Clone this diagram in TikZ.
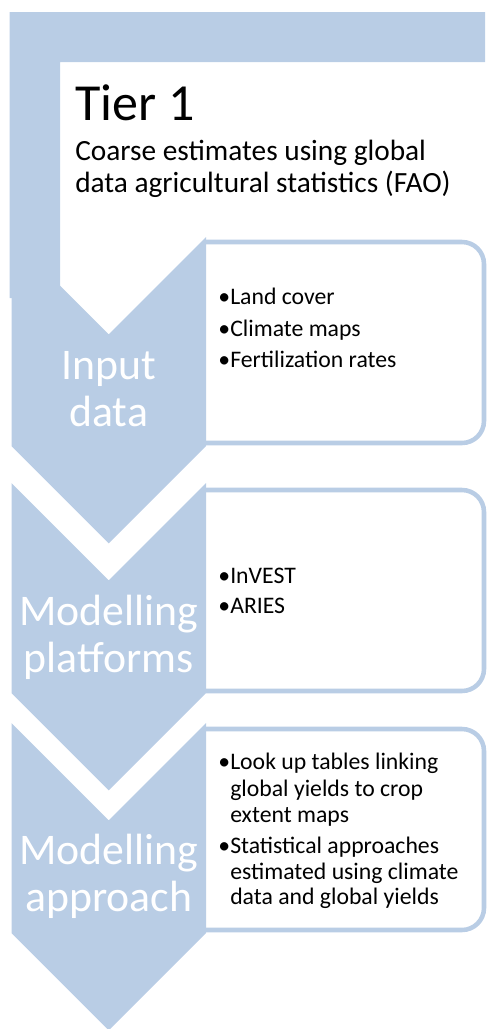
\documentclass[tikz,border=0pt]{standalone}
\usepackage{fontspec}
\setmainfont{Carlito}
\definecolor{chevblue}{RGB}{185,205,229}

\begin{document}
\begin{tikzpicture}[x=0.75pt,y=-0.75pt,chev/.style={fill=chevblue},itembox/.style={draw=chevblue,line width=3.4pt,fill=white,rounded corners=16.5pt},chevlabel/.style={white,anchor=base,inner sep=0pt,font=\fontsize{32.8}{36}\selectfont},item/.style={anchor=base west,inner sep=0pt,font=\fontsize{17.8}{19.5}\selectfont}]
\def\chevL{11.5};
\def\chevR{206};
\def\chevM{108.75};
\def\bulx{218};
\def\txtx{230};
\useasboundingbox (0,0) rectangle (487,1029);
% tier frame
\fill[chev] (9.5,298) -- (9.5,12) -- (485,12) -- (485,62) -- (60,62) -- (60,298) -- cycle;
\node[anchor=base west,inner sep=0pt,font=\fontsize{39}{44}\selectfont] (tier) at (75,120) {Tier 1};
\node[anchor=base west,inner sep=0pt,font=\fontsize{22}{24}\selectfont] (tierdescA) at (75,160) {Coarse estimates using global};
\node[anchor=base west,inner sep=0pt,font=\fontsize{22}{24}\selectfont] (tierdescB) at (75,192) {data agricultural statistics (FAO)};
% boxes
\filldraw[itembox] (\chevR,242) -- (484,242) -- (484,443) -- (\chevR,443);
\filldraw[itembox] (\chevR,490) -- (484,490) -- (484,691) -- (\chevR,691);
\filldraw[itembox] (\chevR,729) -- (484,729) -- (484,930) -- (\chevR,930);
% chevrons
\fill[chev] (\chevL,237) -- (\chevM,334.25) -- (\chevR,237) -- (\chevR,446) -- (\chevM,543.25) -- (\chevL,446) -- cycle;
\fill[chev] (\chevL,483) -- (\chevM,580.25) -- (\chevR,483) -- (\chevR,693) -- (\chevM,790.25) -- (\chevL,693) -- cycle;
\fill[chev] (\chevL,723) -- (\chevM,820.25) -- (\chevR,723) -- (\chevR,933) -- (\chevM,1030.25) -- (\chevL,933) -- cycle;
\node[chevlabel] (inputA) at (\chevM,379) {Input};
\node[chevlabel] (inputB) at (\chevM,426) {data};
\node[chevlabel] (platA) at (\chevM,625) {Modelling};
\node[chevlabel] (platB) at (\chevM,672) {platforms};
\node[chevlabel] (apprA) at (\chevM,864) {Modelling};
\node[chevlabel] (apprB) at (\chevM,911) {approach};
% input data items
\node[item] (landB) at (\bulx,304) {•};
\node[item] (land) at (\txtx,304) {Land cover};
\node[item] (climB) at (\bulx,336) {•};
\node[item] (clim) at (\txtx,336) {Climate maps};
\node[item] (fertB) at (\bulx,367) {•};
\node[item] (fert) at (\txtx,367) {Fertilization rates};
% platform items
\node[item] (investB) at (\bulx,583) {•};
\node[item] (invest) at (\txtx,583) {InVEST};
\node[item] (ariesB) at (\bulx,613) {•};
\node[item] (aries) at (\txtx,613) {ARIES};
% approach items
\node[item] (lookB) at (\bulx,769) {•};
\node[item] (lookA) at (\txtx,769) {Look up tables linking};
\node[item] (lookC) at (\txtx,796) {global yields to crop};
\node[item] (lookD) at (\txtx,822) {extent maps};
\node[item] (statB) at (\bulx,853) {•};
\node[item] (statA) at (\txtx,853) {Statistical approaches};
\node[item] (statC) at (\txtx,879) {estimated using climate};
\node[item] (statD) at (\txtx,904) {data and global yields};
\end{tikzpicture}
\end{document}
